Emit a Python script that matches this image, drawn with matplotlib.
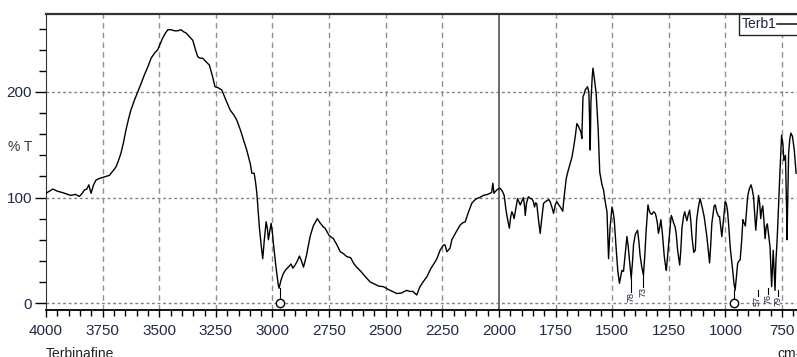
import matplotlib
matplotlib.use('Agg')
import matplotlib.pyplot as plt
from matplotlib.ticker import MultipleLocator, FixedLocator
from matplotlib.patches import Rectangle
from matplotlib.lines import Line2D

plt.close('all')

NARROW = ['Liberation Sans Narrow', 'Liberation Sans', 'DejaVu Sans']
TICK_COLOR = '#1f2a44'

# Spectrum (wavenumber, %T)
wavenumber = [
    4000, 3985, 3970, 3950, 3926, 3905, 3890, 3870, 3853, 3840, 3831, 3820, 3811, 3801,
    3790, 3779, 3765, 3750, 3735, 3720, 3705, 3691, 3680, 3669, 3658, 3647, 3636, 3625,
    3610, 3595, 3580, 3566, 3550, 3536, 3520, 3507, 3495, 3485, 3472, 3462, 3448, 3433,
    3418, 3404, 3392, 3382, 3365, 3352, 3340, 3330, 3320, 3308, 3295, 3279, 3265, 3254,
    3240, 3224, 3205, 3187, 3170, 3158, 3140, 3128, 3115, 3106, 3098, 3091, 3081, 3075,
    3069, 3058, 3050, 3043, 3036, 3028, 3022, 3018, 3012, 3006, 3000, 2996, 2985, 2975,
    2971, 2962, 2952, 2940, 2930, 2918, 2910, 2900, 2890, 2881, 2872, 2863, 2850, 2834,
    2820, 2802, 2790, 2775, 2768, 2750, 2731, 2715, 2701, 2688, 2672, 2655, 2640, 2628,
    2610, 2590, 2569, 2550, 2530, 2510, 2490, 2470, 2451, 2430, 2418, 2407, 2395, 2380,
    2370, 2363, 2350, 2335, 2318, 2300, 2285, 2274, 2260, 2245, 2238, 2230, 2216, 2208,
    2190, 2171, 2160, 2149, 2135, 2120, 2110, 2098, 2085, 2068, 2050, 2039, 2032, 2027,
    2022, 2017, 2005, 1995, 1985, 1977, 1970, 1965, 1958, 1954, 1948, 1943, 1938, 1933,
    1925, 1918, 1912, 1906, 1898, 1892, 1887, 1884, 1878, 1870, 1862, 1855, 1848, 1843,
    1838, 1833, 1826, 1818, 1810, 1803, 1795, 1788, 1780, 1774, 1765, 1759, 1750, 1744,
    1736, 1729, 1718, 1715, 1712, 1703, 1695, 1686, 1678, 1671, 1663, 1656, 1650, 1644,
    1638, 1634, 1629, 1624, 1619, 1612, 1609, 1603, 1600, 1597, 1594, 1588, 1585, 1580,
    1571, 1562, 1555, 1545, 1538, 1530, 1523, 1516, 1510, 1501, 1495, 1491, 1482, 1475,
    1468, 1460, 1457, 1450, 1442, 1435, 1430, 1424, 1416, 1410, 1406, 1398, 1388, 1382,
    1377, 1370, 1362, 1356, 1350, 1342, 1337, 1332, 1325, 1317, 1310, 1306, 1300, 1296,
    1290, 1285, 1278, 1270, 1265, 1261, 1255, 1249, 1243, 1239, 1234, 1229, 1222, 1217,
    1211, 1202, 1197, 1192, 1185, 1180, 1175, 1170, 1164, 1158, 1153, 1148, 1140, 1133,
    1127, 1120, 1112, 1104, 1094, 1082, 1075, 1070, 1065, 1060, 1050, 1045, 1038, 1030,
    1026, 1016, 1008, 1001, 996, 991, 985, 979, 970, 962, 957, 950, 946, 940,
    935, 928, 923, 918, 912, 906, 902, 895, 887, 882, 876, 871, 866, 860,
    854, 849, 844, 840, 835, 830, 825, 820, 815, 808, 803, 796, 792, 789,
    784, 781, 777, 771, 765, 759, 752, 746, 742, 735, 730, 728, 725, 721,
    716, 711, 704, 696, 688,
]
transmittance = [
    104, 106, 108, 106, 104.6, 103, 102, 103, 101, 104, 107, 108, 112, 104,
    112, 116.6, 118, 119, 120, 121, 125, 129, 135, 142, 152, 164, 174, 183,
    192, 200, 208, 216, 224, 232, 237, 240, 246, 251, 256, 259, 259, 258,
    258, 259, 257, 256, 252, 249, 240, 233.5, 232, 232, 229, 225.6, 215, 205,
    204, 202, 192, 183, 178, 173.5, 163, 154.5, 146, 138.7, 132, 123, 123, 115,
    104, 72, 55, 42, 60, 77, 70, 60, 68, 75.5, 66, 56.6, 35, 18,
    14, 22, 28, 32, 34, 37, 33, 36, 40, 44.5, 40, 34, 45, 63,
    73, 80, 76, 72, 71, 64, 61, 55, 48.6, 47, 44, 43, 37, 34,
    30, 25, 20, 18, 16, 15.5, 13, 11, 9, 9.5, 11, 12, 11, 11,
    9, 7.6, 15, 20, 25, 33, 38, 42, 50, 55, 55, 48.6, 52, 60,
    67, 74, 76, 77, 86, 94.5, 97, 99, 100, 102, 103, 104, 105, 113.5,
    104, 105.5, 108, 108.7, 106, 102, 90, 83, 75, 71, 82, 86.5, 84, 80,
    90, 99, 96, 93, 97, 100, 92, 83, 95, 100.8, 99, 99, 96, 91,
    95, 94, 80, 66, 82, 94.5, 96, 97, 98, 96, 90, 85, 94, 96,
    93, 91, 87, 95, 101, 118, 125, 132, 138, 146.6, 158, 170, 168, 165,
    162, 156, 195.6, 198, 202, 204, 205, 200, 175, 145, 190, 215, 222.5, 215,
    199, 165, 124, 112, 107, 95, 86.5, 42, 70, 91, 85, 79, 50, 30,
    18.7, 28, 31, 30, 48, 63, 55, 41, 23.4, 40, 55, 65, 69, 58,
    45.5, 35, 26.5, 45, 69, 93, 88, 85, 84, 86.5, 85, 82, 75, 66,
    72, 79, 65, 44, 36, 31, 45, 60, 75, 83, 80, 76, 72, 65,
    50, 36, 50, 71, 82, 86.5, 82, 78, 84, 88, 78, 63, 48, 50,
    79, 90, 99, 92, 82, 63, 48, 38, 55, 75.5, 92, 93, 86, 82,
    82, 63, 80, 96, 94, 88, 72, 53, 35, 18, 12.3, 28, 37.6, 40,
    41, 60, 79, 76, 73, 90, 100.8, 108, 112, 108, 100.8, 85, 69, 85,
    102, 95, 80, 88, 92, 78, 61, 72, 75, 62, 53, 15.5, 35, 50,
    25, 12, 40, 63, 95, 126, 159, 150, 135, 140, 90, 60, 95, 142,
    155, 161, 158, 145, 123,
]

# Peak picks (only the ends of the clipped labels show in the picture)
circle_peaks = [2966, 962]
circle_troughs = [14, 12.3]
label_peaks = [1418, 1363, 858, 810, 766]
label_troughs = [23.4, 26.5, 12, 14, 12]
label_tops = [10.5, 15, 7, 9, 7]
label_texts = ['78', '73', '57', '76', '79']

fig = plt.figure(figsize=(7.97, 3.57), dpi=100)
ax = fig.add_axes([46 / 797, 47 / 357, 751 / 797, 296 / 357])

ax.plot(wavenumber, transmittance, color='black', lw=1.0, zorder=3)

# grid
for y in [0, 100, 200]:
    ax.axhline(y, color='#808080', lw=1.0, ls=(0, (2, 2)), zorder=1)
for x in [3750, 3500, 3250, 3000, 2750, 2500, 2250, 1750, 1500, 1250, 1000, 750]:
    ax.axvline(x, color='#909090', lw=1.0, ls=(0, (4, 3)), zorder=1)
ax.axvline(2000, color='#606060', lw=1.3, zorder=2)

# peak markers
for x, t in zip(circle_peaks, circle_troughs):
    ax.plot([x, x], [t, 0], color='black', lw=0.8, zorder=3)
    ax.plot([x], [0], marker='o', ms=6, mfc='white', mec='black', mew=1.0,
            zorder=5, clip_on=False)
for x, t, top, s in zip(label_peaks, label_troughs, label_tops, label_texts):
    ax.plot([x, x], [t, top], color='black', lw=0.8, zorder=3)
    ax.text(x, top, s, rotation=90, ha='center', va='top', fontsize=6.5,
            family=NARROW, color='#1a2440', clip_on=True, zorder=4)

ax.set_xlim(4000, 684)
ax.set_ylim(-6.6, 273.9)

ax.xaxis.set_major_locator(MultipleLocator(250))
ax.xaxis.set_minor_locator(MultipleLocator(50))
ax.yaxis.set_major_locator(FixedLocator([0, 100, 200]))
ax.yaxis.set_minor_locator(MultipleLocator(20))

ax.tick_params(axis='x', which='major', direction='out', length=5, width=1,
               pad=5, labelsize=11, labelcolor=TICK_COLOR)
ax.tick_params(axis='x', which='minor', direction='out', length=4, width=1)
ax.tick_params(axis='y', which='major', direction='out', length=8, width=1,
               pad=2, labelsize=11, labelcolor=TICK_COLOR)
ax.tick_params(axis='y', which='minor', direction='out', length=5, width=1)
for lab in ax.get_xticklabels() + ax.get_yticklabels():
    lab.set_family(NARROW)

ax.spines['top'].set_linewidth(1.6)
ax.spines['top'].set_color('#333333')
ax.spines['left'].set_color('#333333')
ax.spines['bottom'].set_linewidth(1.3)
ax.spines['right'].set_visible(False)

# axis captions
fig.text(20 / 797, 1 - 147 / 357, '% T', fontsize=10, family=NARROW,
         color='#3a2f45', ha='center', va='center')
fig.text(46 / 797, 10 / 357, 'Terbinafine', fontsize=10, family=NARROW,
         color='#222222', ha='left', va='top')
fig.text(777 / 797, 10 / 357, 'cm-1', fontsize=10, family=NARROW,
         color='#222222', ha='left', va='top')

# legend box
fig.patches.append(Rectangle((739 / 797, 1 - 35 / 357), 62 / 797, 21 / 357,
                             transform=fig.transFigure, facecolor='white',
                             edgecolor='#222222', lw=1.0, zorder=10))
fig.text(742 / 797, 1 - 24.5 / 357, 'Terb1', fontsize=10, family=NARROW,
         color='#1a2440', ha='left', va='center', zorder=11)
fig.lines.append(Line2D([777 / 797, 797 / 797], [1 - 24 / 357, 1 - 24 / 357],
                        transform=fig.transFigure, color='#222222', lw=1.2,
                        zorder=11))

plt.savefig('out.png', dpi=100)
